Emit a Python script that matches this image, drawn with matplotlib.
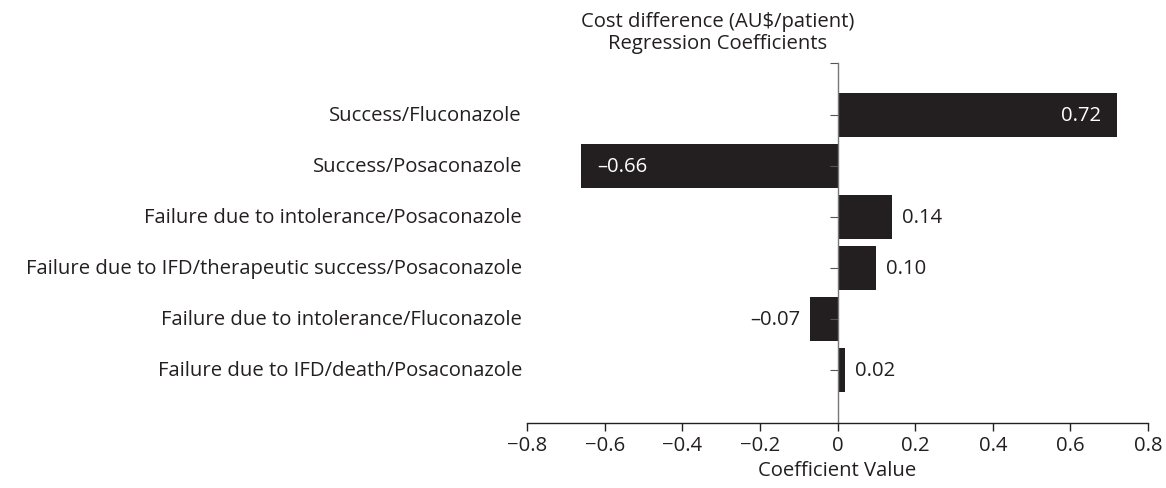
import matplotlib
matplotlib.use("Agg")
import matplotlib.pyplot as plt

categories = [
    "Success/Fluconazole",
    "Success/Posaconazole",
    "Failure due to intolerance/Posaconazole",
    "Failure due to IFD/therapeutic success/Posaconazole",
    "Failure due to intolerance/Fluconazole",
    "Failure due to IFD/death/Posaconazole",
]
values = [0.72, -0.66, 0.14, 0.10, -0.07, 0.02]
xticks = [-0.8, -0.6, -0.4, -0.2, 0, 0.2, 0.4, 0.6, 0.8]
xticklabels = ["\u22120.8", "\u22120.6", "\u22120.4", "\u22120.2", "0", "0.2", "0.4", "0.6", "0.8"]

plt.rcParams['font.family'] = ['Open Sans', 'DejaVu Sans']
FS = 14.6
bar_color = "#231f20"
text_color = "#231f20"

fig = plt.figure(figsize=(11.66, 4.89), dpi=100)
ax = fig.add_axes([527/1166, 1 - 424/489, (1148-527)/1166, (424-64)/489])

ys = list(range(len(categories)))
ax.barh(ys, values, height=0.88, color=bar_color)
ax.set_xlim(-0.8, 0.8)
top = -1.02
ax.set_ylim(len(categories) - 1 + 1.04, top)

for s in ["top", "right"]:
    ax.spines[s].set_visible(False)
ax.spines["left"].set_position(("data", 0))
ax.spines["left"].set_color("#777777")
ax.spines["left"].set_linewidth(1.0)
ax.spines["bottom"].set_color(text_color)
ax.spines["bottom"].set_linewidth(1.0)

ax.set_yticks(ys)
ax.set_yticklabels([""] * len(ys))
ax.set_yticks([top], minor=True)
ax.tick_params(axis="y", which="both", length=6, color="#555555", width=0.8)
ax.set_xticks(xticks)
ax.set_xticklabels(xticklabels, fontsize=FS, color=text_color)
ax.tick_params(axis="x", length=6, color=text_color, width=1.0, pad=3)

trans = matplotlib.transforms.blended_transform_factory(ax.transAxes, ax.transData)
for y, lab in zip(ys, categories):
    ax.text(-0.008, y, lab, transform=trans, ha="right", va="center", fontsize=FS, color=text_color)

for y, v in zip(ys, values):
    txt = f"{abs(v):.2f}"
    if v < 0:
        txt = "\u2013" + txt
    if abs(v) > 0.3:
        if v > 0:
            ax.text(v - 0.04, y, txt, ha="right", va="center", fontsize=FS, color="white")
        else:
            ax.text(v + 0.04, y, txt, ha="left", va="center", fontsize=FS, color="white")
    else:
        if v > 0:
            ax.text(v + 0.025, y, txt, ha="left", va="center", fontsize=FS, color=text_color)
        else:
            ax.text(v - 0.025, y, txt, ha="right", va="center", fontsize=FS, color=text_color)

ax.set_xlabel("Coefficient Value", fontsize=FS, color=text_color, labelpad=3)

fig.text(718/1166, 1 - 33/489, "Cost difference (AU$/patient)\nRegression Coefficients",
         ha="center", va="center", fontsize=FS, color=text_color, linespacing=1.2)

fig.savefig("out.png", dpi=100)
